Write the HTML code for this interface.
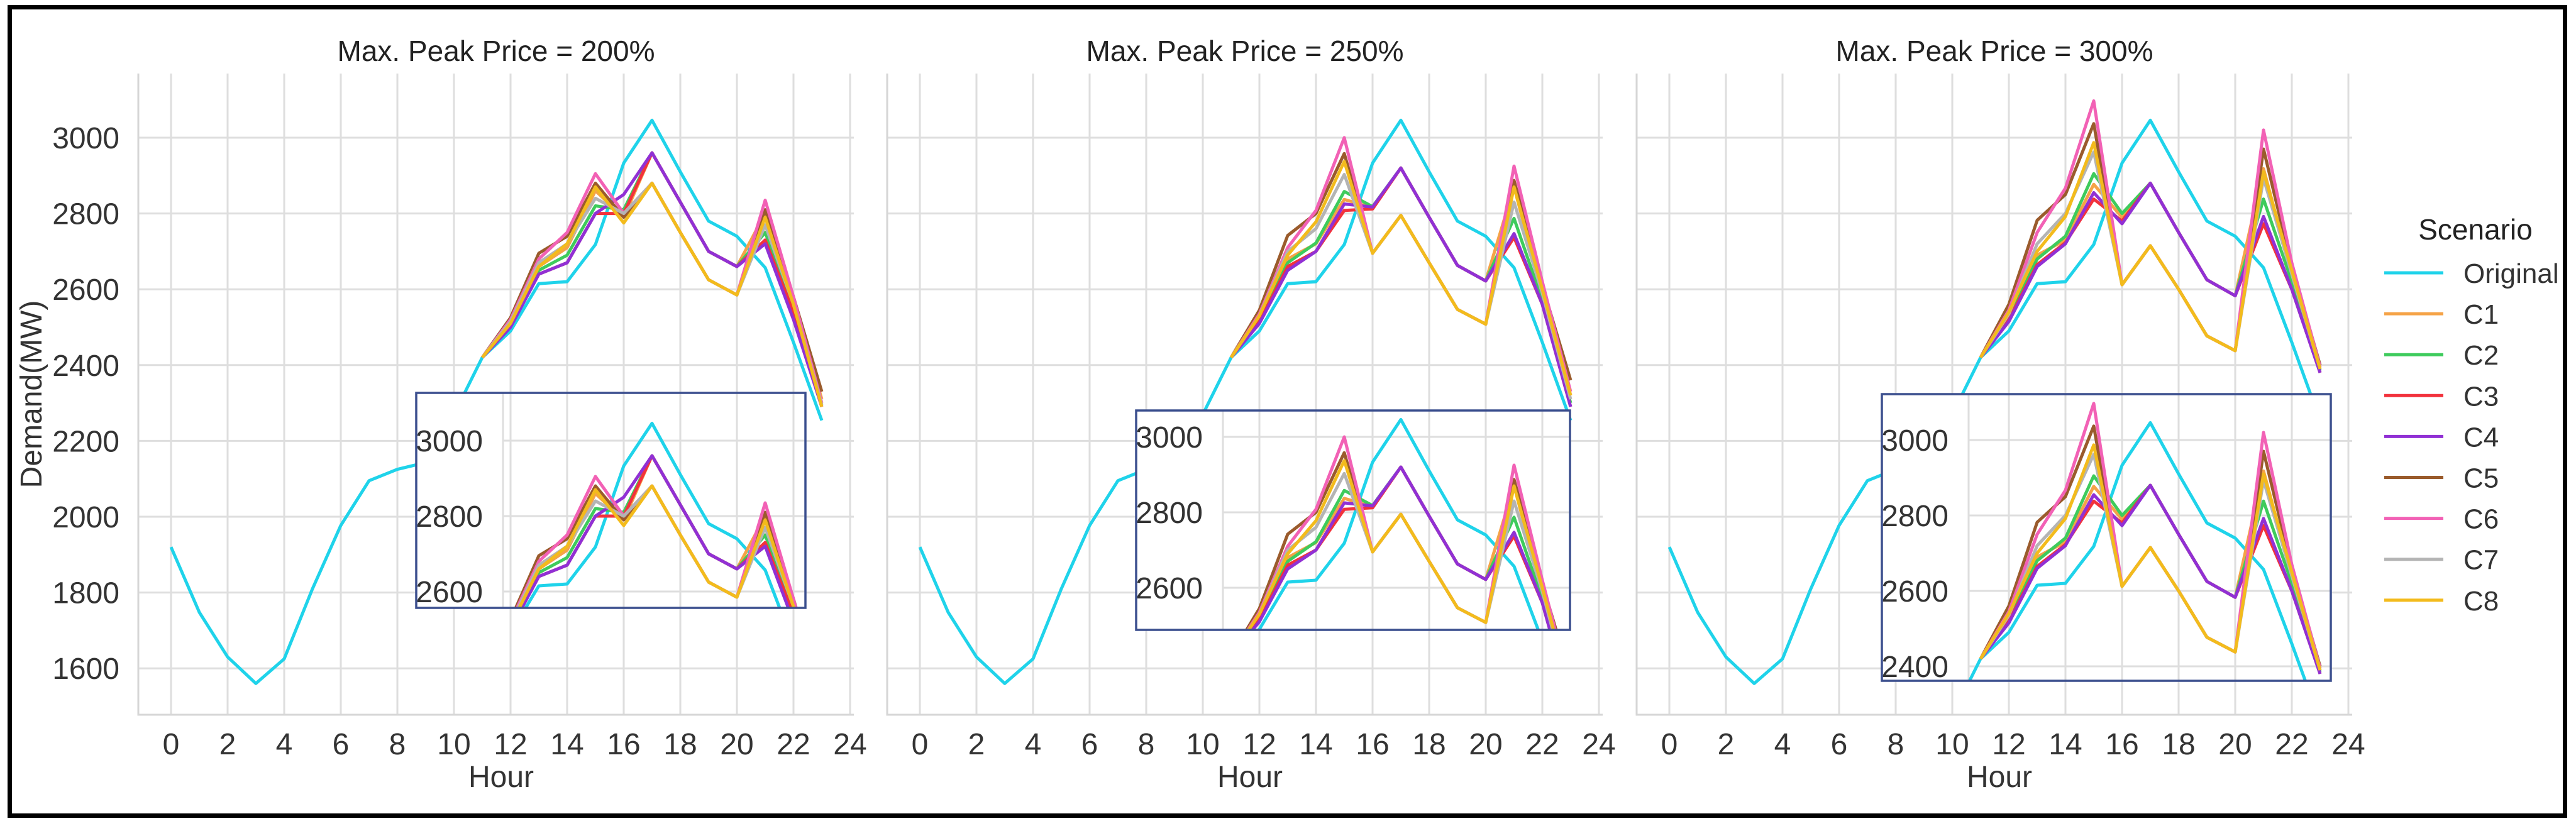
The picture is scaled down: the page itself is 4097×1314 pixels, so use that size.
<!DOCTYPE html>
<html><head><meta charset="utf-8"><style>
html,body{margin:0;padding:0;background:#fff;overflow:hidden;width:4097px;height:1314px;}
svg{display:block;font-family:"Liberation Sans",Arial,sans-serif;}
</style></head><body>
<svg id="chart" width="4097" height="1314" viewBox="0 0 4097 1314" xmlns="http://www.w3.org/2000/svg">
<rect x="0" y="0" width="4097" height="1314" fill="#fff"/>
<rect x="15.5" y="11.5" width="4064" height="1286" fill="none" stroke="#000" stroke-width="7"/>
<g id="layer"></g>
</svg>
<script>
const hours = [0,1,2,3,4,5,6,7,8,9,10,11,12,13,14,15,16,17,18,19,20,21,22,23];
const seriesNames = ["Original","C1","C2","C3","C4","C5","C6","C7","C8"];
const panelTitles = ["Max. Peak Price = 200%","Max. Peak Price = 250%","Max. Peak Price = 300%"];
const yTicks = [1600,1800,2000,2200,2400,2600,2800,3000];
const xTicks = [0,2,4,6,8,10,12,14,16,18,20,22,24];
const insetTicks1 = [2600,2800,3000];
const insetTicks2 = [2600,2800,3000];
const insetTicks3 = [2400,2600,2800,3000];
const base = [1920,1748,1630,1560,1625,1810,1977,2095,2125,2143,2270];
const original = base.concat([2420,2490,2615,2620,2718,2933,3046,2910,2780,2740,2657,2460,2254]);
// panel 1 (200%) hours 11..23
const p1C1 = [2420,2515,2660,2710,2860,2790,2960,2830,2700,2660,2800,2570,2310];
const p1C2 = [2420,2510,2650,2690,2820,2810,2960,2830,2700,2660,2750,2550,2295];
const p1C3 = [2420,2505,2640,2670,2800,2800,2960,2830,2700,2660,2730,2540,2290];
const p1C4 = [2420,2500,2640,2670,2800,2850,2960,2830,2700,2660,2720,2520,2290];
const p1C5 = [2420,2525,2695,2740,2880,2790,2880,2750,2625,2585,2810,2580,2330];
const p1C6 = [2420,2520,2680,2750,2905,2800,2880,2750,2625,2585,2835,2580,2300];
const p1C7 = [2420,2515,2670,2720,2840,2800,2880,2750,2625,2585,2770,2560,2295];
const p1C8 = [2420,2510,2660,2720,2870,2775,2880,2750,2625,2585,2790,2560,2290];
// panel 2 (250%)
const p2C1 = [2420,2525,2680,2720,2837,2815,2920,2790,2663,2622,2870,2590,2320];
const p2C2 = [2420,2520,2670,2722,2858,2818,2920,2790,2663,2622,2787,2570,2300];
const p2C3 = [2420,2515,2660,2700,2808,2812,2920,2790,2663,2622,2737,2560,2290];
const p2C4 = [2420,2510,2650,2700,2825,2817,2920,2790,2663,2622,2747,2560,2290];
const p2C5 = [2420,2545,2742,2800,2958,2695,2795,2670,2547,2508,2887,2610,2360];
const p2C6 = [2420,2535,2710,2808,3000,2695,2795,2670,2547,2508,2925,2620,2330];
const p2C7 = [2420,2530,2700,2760,2903,2695,2795,2670,2547,2508,2830,2590,2310];
const p2C8 = [2420,2530,2690,2778,2937,2695,2795,2670,2547,2508,2870,2600,2320];
// panel 3 (300%)
const p3C1 = [2420,2530,2690,2730,2877,2790,2880,2750,2625,2583,2918,2640,2390];
const p3C2 = [2420,2525,2680,2740,2905,2800,2880,2750,2625,2583,2838,2620,2385];
const p3C3 = [2420,2520,2665,2723,2838,2780,2880,2750,2625,2583,2773,2600,2380];
const p3C4 = [2420,2515,2660,2720,2855,2773,2880,2750,2625,2583,2792,2600,2380];
const p3C5 = [2420,2560,2782,2850,3037,2612,2715,2600,2477,2438,2970,2660,2400];
const p3C6 = [2420,2545,2750,2867,3097,2612,2715,2600,2477,2438,3020,2670,2395];
const p3C7 = [2420,2535,2720,2800,2962,2612,2715,2600,2477,2438,2893,2640,2390];
const p3C8 = [2420,2540,2700,2792,2987,2612,2715,2600,2477,2438,2910,2650,2390];
const colors = ["#1fd3ea","#f5a347","#3ecb5c","#f2323c","#9130d4","#9a5b2c","#f261b5","#b4b4b4","#f3bb1c"];

const NS="http://www.w3.org/2000/svg";
const layer=document.getElementById('layer');
function mk(tag,attrs,parent){const e=document.createElementNS(NS,tag);for(const k in attrs)e.setAttribute(k,attrs[k]);(parent||layer).appendChild(e);return e;}
function fullSeries(tail){return base.concat(tail);}
const panelsData=[
 [original,fullSeries(p1C1),fullSeries(p1C2),fullSeries(p1C3),fullSeries(p1C4),fullSeries(p1C5),fullSeries(p1C6),fullSeries(p1C7),fullSeries(p1C8)],
 [original,fullSeries(p2C1),fullSeries(p2C2),fullSeries(p2C3),fullSeries(p2C4),fullSeries(p2C5),fullSeries(p2C6),fullSeries(p2C7),fullSeries(p2C8)],
 [original,fullSeries(p3C1),fullSeries(p3C2),fullSeries(p3C3),fullSeries(p3C4),fullSeries(p3C5),fullSeries(p3C6),fullSeries(p3C7),fullSeries(p3C8)]
];
const insetTickSets=[insetTicks1,insetTicks2,insetTicks3];
const offsets=[0,1191,2383];
const insetBoxes=[{l:662,r:1281,t:625,b:967,ax:800,y3:701},{l:1807,r:2497,t:653,b:1002,ax:1945,y3:695},{l:2993,r:3707,t:627,b:1083,ax:3131,y3:700}];
const TOP=117,BOT=1137,PX=45,PY=0.603;
const START=11; // scenarios diverge from hour 11; before that only Original is drawn

function pathFor(vals,i,xs,ys){
  const from = i===0 ? 0 : START;
  let d='';
  for(let h=from;h<vals.length;h++){d+=(h===from?'M':'L')+xs(hours[h]).toFixed(1)+','+ys(vals[h]).toFixed(1);}
  return d;
}

panelsData.forEach((data,p)=>{
  const off=offsets[p];
  const x0=272+off, axL=220+off, axR=1358+off;
  const xs=h=>x0+h*PX;
  const ys=v=>219+(3000-v)*PY;
  const g=mk('g',{});
  
  
  yTicks.forEach(v=>{const l=mk('line',{x1:axL,x2:axR,y1:ys(v),y2:ys(v),stroke:'#dedede','stroke-width':3},g);
    });
  xTicks.forEach(h=>{const l=mk('line',{x1:xs(h),x2:xs(h),y1:TOP,y2:BOT,stroke:'#dedede','stroke-width':3},g);
    
    const t=mk('text',{x:xs(h),y:1200,'font-size':48,'text-anchor':'middle',fill:'#333'},g);t.textContent=h;
    });
  const sp=mk('path',{d:`M${axL},${TOP}V${BOT}H${axR}`,fill:'none',stroke:'#d6d6d6','stroke-width':3},g);
  
  if(p===0){
    yTicks.forEach(v=>{const t=mk('text',{x:190,y:ys(v)+17,'font-size':48,'text-anchor':'end',fill:'#333'},g);t.textContent=v;
      });
    const yl=mk('text',{x:0,y:0,'font-size':48,'text-anchor':'middle',fill:'#333',transform:'translate(66,627) rotate(-90)'},g);
    yl.textContent='Demand(MW)';
  }
  const ti=mk('text',{x:(axL+axR)/2,y:97,'font-size':46,'text-anchor':'middle',fill:'#222'},g);ti.textContent=panelTitles[p];
  
  const xl=mk('text',{x:(axL+axR)/2+8,y:1252,'font-size':48,'text-anchor':'middle',fill:'#333'},g);xl.textContent='Hour';
  
  data.forEach((vals,i)=>{
    const pl=mk('path',{d:pathFor(vals,i,xs,ys),fill:'none',stroke:colors[i],'stroke-width':5,'stroke-linejoin':'round'},g);
    
  });
  // inset
  const b=insetBoxes[p];
  const ysi=v=>b.y3+(3000-v)*0.6;
  const ig=mk('g',{});
  
  
  mk('rect',{x:b.l,y:b.t,width:b.r-b.l,height:b.b-b.t,fill:'#fff'},ig);
  const cid='clip'+p;
  const defs=mk('defs',{},ig);const cp=mk('clipPath',{id:cid},defs);mk('rect',{x:b.l,y:b.t,width:b.r-b.l,height:b.b-b.t},cp);
  const cg=mk('g',{'clip-path':`url(#${cid})`},ig);
  insetTickSets[p].forEach(v=>{mk('line',{x1:b.ax,x2:b.r,y1:ysi(v),y2:ysi(v),stroke:'#dedede','stroke-width':3},cg);
    const t=mk('text',{x:b.ax-32,y:ysi(v)+17,'font-size':48,'text-anchor':'end',fill:'#333'},ig);t.textContent=v;
    });
  xTicks.forEach(h=>{if(xs(h)>b.ax&&xs(h)<b.r)mk('line',{x1:xs(h),x2:xs(h),y1:b.t,y2:b.b,stroke:'#dedede','stroke-width':3},cg);});
  mk('line',{x1:b.ax,x2:b.ax,y1:b.t,y2:b.b,stroke:'#dedede','stroke-width':3},cg);
  data.forEach((vals,i)=>{
    const pl=mk('path',{d:pathFor(vals,i,xs,ysi),fill:'none',stroke:colors[i],'stroke-width':5,'stroke-linejoin':'round'},cg);
    
  });
  mk('rect',{x:b.l,y:b.t,width:b.r-b.l,height:b.b-b.t,fill:'none',stroke:'#3b4f8e','stroke-width':3.5},ig);
});
// legend
const lg=mk('g',{});


const lt=mk('text',{x:3937,y:381,'font-size':46,'text-anchor':'middle',fill:'#222'},lg);lt.textContent='Scenario';

seriesNames.forEach((n,i)=>{
  const y=434+i*65.1;
  const e=mk('g',{},lg);
  
  
  mk('line',{x1:3792,x2:3886,y1:y,y2:y,stroke:colors[i],'stroke-width':5},e);
  const t=mk('text',{x:3918,y:y+16,'font-size':44,fill:'#333'},e);t.textContent=n;
});
</script>
</body></html>
